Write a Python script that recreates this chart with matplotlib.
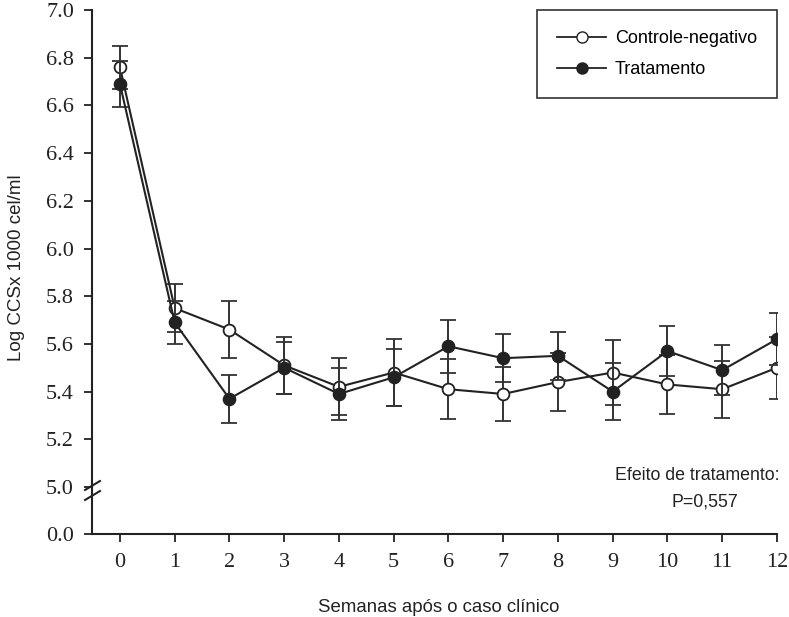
import numpy as np
import matplotlib.pyplot as plt
from matplotlib.lines import Line2D

weeks = np.arange(0, 13)

# Controle-negativo (open circles)
ctrl_mean = [6.76, 5.75, 5.66, 5.51, 5.42, 5.48, 5.41, 5.39, 5.44, 5.48, 5.43, 5.41, 5.50]
ctrl_err = [0.09, 0.10, 0.12, 0.12, 0.12, 0.14, 0.125, 0.115, 0.12, 0.135, 0.125, 0.12, 0.13]

# Tratamento (filled circles)
trat_mean = [6.69, 5.69, 5.37, 5.50, 5.39, 5.46, 5.59, 5.54, 5.55, 5.40, 5.57, 5.49, 5.62]
trat_err = [0.095, 0.09, 0.10, 0.11, 0.11, 0.12, 0.11, 0.10, 0.10, 0.12, 0.105, 0.105, 0.11]

top_ticks = [5.0, 5.2, 5.4, 5.6, 5.8, 6.0, 6.2, 6.4, 6.6, 6.8, 7.0]

W, H = 789, 617
fig = plt.figure(figsize=(W / 100, H / 100), dpi=100)

left = 92 / W
right = 777 / W
y7, y5, y0 = 10, 487, 534
ax = fig.add_axes([left, 1 - y5 / H, right - left, (y5 - y7) / H])
axb = fig.add_axes([left, 1 - y0 / H, right - left, (y0 - y5) / H], sharex=ax)

dark = '#222222'
serif = 'Liberation Serif'
sans = 'Liberation Sans'

ax.errorbar(weeks, ctrl_mean, yerr=ctrl_err, color=dark, ecolor='#333333',
            lw=1.5, elinewidth=1.4, capsize=6, capthick=1.4,
            marker='o', markersize=8.5, markerfacecolor='white',
            markeredgecolor=dark, markeredgewidth=1.3, zorder=3)
ax.errorbar(weeks, trat_mean, yerr=trat_err, color=dark, ecolor='#333333',
            lw=1.5, elinewidth=1.4, capsize=6, capthick=1.4,
            marker='o', markersize=8.5, markerfacecolor=dark,
            markeredgecolor=dark, markeredgewidth=1.3, zorder=4)

ax.set_ylim(5.0, 7.0)
ax.set_yticks(top_ticks)
ax.set_yticklabels([f'{t:.1f}' for t in top_ticks])
ax.set_xlim(-0.51, 12)

axb.set_ylim(0, 1)
axb.set_yticks([0])
axb.set_yticklabels(['0.0'])
axb.set_xticks(weeks)
axb.set_xticklabels([str(w) for w in weeks])

for a in (ax, axb):
    a.spines['top'].set_visible(False)
    a.spines['right'].set_visible(False)
    for s in ('left', 'bottom'):
        a.spines[s].set_linewidth(1.5)
        a.spines[s].set_color(dark)
    a.tick_params(direction='out', length=6, width=1.3, color=dark,
                  labelsize=16, pad=7)
    for lab in a.get_yticklabels() + a.get_xticklabels():
        lab.set_fontfamily(serif)
        lab.set_color(dark)
    a.set_facecolor('none')

ax.spines['bottom'].set_visible(False)
ax.tick_params(axis='x', bottom=False, labelbottom=False)
axb.tick_params(axis='x', pad=8)

# break marks on the y axis
brk = [(-1, -0.6), (1, 0.6)]
for yy in (1.04, 0.84):
    axb.plot([0], [yy], transform=axb.transAxes, marker=brk, markersize=12,
             linestyle='none', color=dark, mew=1.5, clip_on=False, zorder=5)

# legend handles: plain line with marker, no error bars
handles = [Line2D([], [], color=dark, lw=1.3, marker='o', markersize=8,
                  markerfacecolor='white', markeredgecolor=dark),
           Line2D([], [], color=dark, lw=1.3, marker='o', markersize=8,
                  markerfacecolor=dark, markeredgecolor=dark)]
leg = ax.legend(handles, ['Controle-negativo', 'Tratamento'],
                loc='upper right', bbox_to_anchor=(right, 1 - y7 / H),
                bbox_transform=fig.transFigure, fancybox=False, framealpha=1,
                edgecolor='#333333', prop={'family': sans, 'size': 13},
                handlelength=2.7, handletextpad=0.5, labelspacing=0.8,
                borderpad=1.1, borderaxespad=0)
leg.get_frame().set_linewidth(1.2)

fig.text(697 / W, 1 - 475 / H, 'Efeito de tratamento:', family=sans,
         fontsize=12.8, ha='center', va='center', color=dark)
fig.text(705 / W, 1 - 502 / H, 'P=0,557', family=sans,
         fontsize=12.8, ha='center', va='center', color=dark)

fig.text(439 / W, 1 - 607 / H, 'Semanas após o caso clínico', family=sans,
         fontsize=13.4, ha='center', va='center', color=dark)
fig.text(17 / W, 1 - 268 / H, 'Log CCSx 1000 cel/ml', family=sans,
         fontsize=13.5, ha='center', va='center', rotation=90, color=dark)

fig.savefig('out.png', dpi=100, facecolor='white')
